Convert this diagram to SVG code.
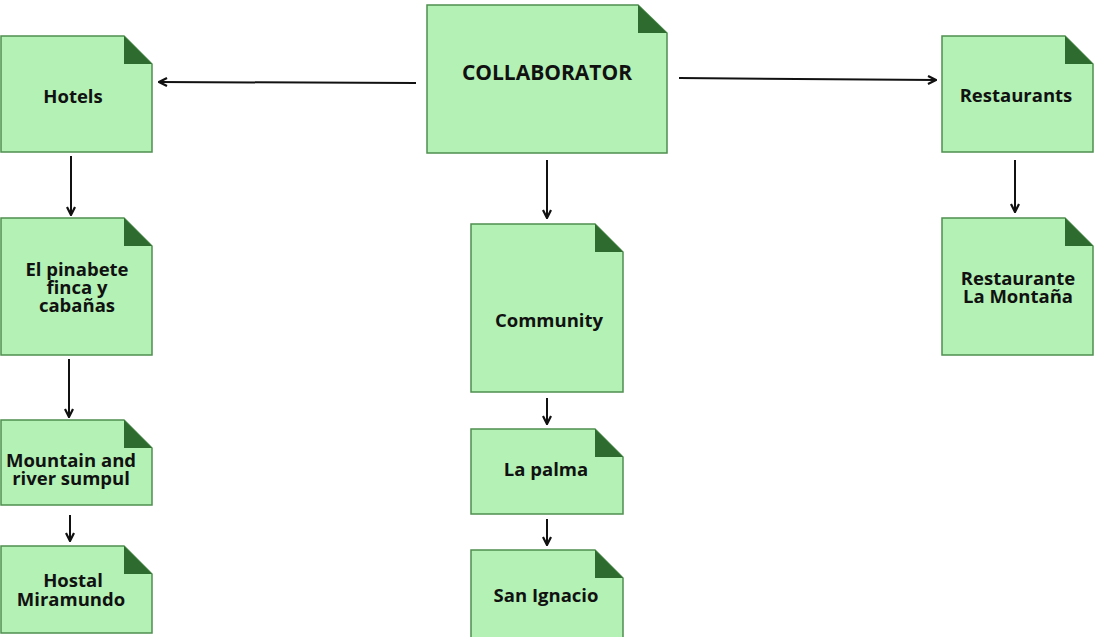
<svg xmlns="http://www.w3.org/2000/svg" width="1094" height="637" viewBox="0 0 1094 637">
<defs>
<style>
.page{fill:#b3f1b5;stroke:#4f8f4f;stroke-width:1.5}
.fold{fill:#2e6b2f}
.t{font-family:"Open Sans","Noto Sans","Liberation Sans",sans-serif;font-weight:bold;font-size:18.5px;fill:#111;text-anchor:middle}
.big{font-size:21px}
.c{stroke:#111;stroke-width:2;fill:none}
</style>
<marker id="ah" viewBox="0 0 10 10" refX="9" refY="5" markerWidth="10" markerHeight="10" markerUnits="userSpaceOnUse" orient="auto">
<path d="M1,1 L9,5 L1,9" fill="none" stroke="#111" stroke-width="2.2"/>
</marker>
</defs>
<rect width="1094" height="637" fill="#fff"/>
<g id="connectors">
<line class="c" x1="416" y1="83" x2="159" y2="82" marker-end="url(#ah)"/>
<line class="c" x1="679" y1="78" x2="936" y2="80" marker-end="url(#ah)"/>
<line class="c" x1="547" y1="160" x2="547" y2="218" marker-end="url(#ah)"/>
<line class="c" x1="71" y1="156" x2="71" y2="215" marker-end="url(#ah)"/>
<line class="c" x1="69" y1="359" x2="69" y2="417" marker-end="url(#ah)"/>
<line class="c" x1="70" y1="515" x2="70" y2="541" marker-end="url(#ah)"/>
<line class="c" x1="1015" y1="160" x2="1015" y2="212" marker-end="url(#ah)"/>
<line class="c" x1="547" y1="398" x2="547" y2="424" marker-end="url(#ah)"/>
<line class="c" x1="547" y1="519" x2="547" y2="545" marker-end="url(#ah)"/>
</g>
<g id="collaborator">
<polygon class="page" points="427,5 638,5 667,33 667,153 427,153"/>
<polygon class="fold" points="638,5 638,33 667,33"/>
<text class="t big" x="547" y="80">COLLABORATOR</text>
</g>
<g id="hotels">
<polygon class="page" points="1,36 124,36 152,64 152,152 1,152"/>
<polygon class="fold" points="124,36 124,64 152,64"/>
<text class="t" x="73" y="103">Hotels</text>
</g>
<g id="el-pinabete">
<polygon class="page" points="1,218 124,218 152,246 152,355 1,355"/>
<polygon class="fold" points="124,218 124,246 152,246"/>
<text class="t" x="77" y="276">El pinabete</text>
<text class="t" x="77" y="294">finca y</text>
<text class="t" x="77" y="312">cabañas</text>
</g>
<g id="mountain">
<polygon class="page" points="1,420 124,420 152,448 152,505 1,505"/>
<polygon class="fold" points="124,420 124,448 152,448"/>
<text class="t" x="71" y="467">Mountain and</text>
<text class="t" x="71" y="485">river sumpul</text>
</g>
<g id="hostal">
<polygon class="page" points="1,546 124,546 152,574 152,633 1,633"/>
<polygon class="fold" points="124,546 124,574 152,574"/>
<text class="t" x="73" y="587">Hostal</text>
<text class="t" x="71" y="606">Miramundo</text>
</g>
<g id="restaurants">
<polygon class="page" points="942,36 1065,36 1093,64 1093,152 942,152"/>
<polygon class="fold" points="1065,36 1065,64 1093,64"/>
<text class="t" x="1016" y="102">Restaurants</text>
</g>
<g id="restaurante-la-montana">
<polygon class="page" points="942,218 1065,218 1093,246 1093,355 942,355"/>
<polygon class="fold" points="1065,218 1065,246 1093,246"/>
<text class="t" x="1018" y="285">Restaurante</text>
<text class="t" x="1018" y="303">La Montaña</text>
</g>
<g id="community">
<polygon class="page" points="471,224 595,224 623,252 623,392 471,392"/>
<polygon class="fold" points="595,224 595,252 623,252"/>
<text class="t" x="549" y="327">Community</text>
</g>
<g id="la-palma">
<polygon class="page" points="471,429 595,429 623,457 623,514 471,514"/>
<polygon class="fold" points="595,429 595,457 623,457"/>
<text class="t" x="546" y="476">La palma</text>
</g>
<g id="san-ignacio">
<polygon class="page" points="471,550 595,550 623,578 623,640 471,640"/>
<polygon class="fold" points="595,550 595,578 623,578"/>
<text class="t" x="546" y="602">San Ignacio</text>
</g>
</svg>
